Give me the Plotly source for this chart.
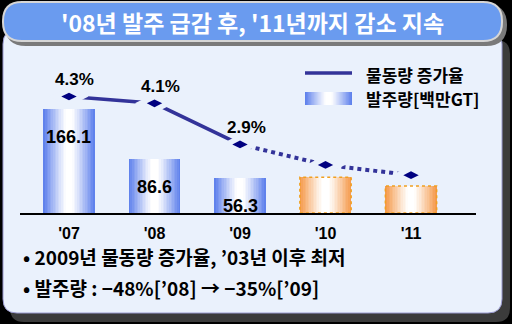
import plotly.graph_objects as go

# ---- data ----
years = ["'07", "'08", "'09", "'10", "'11"]
order_volume = [166.1, 86.6, 56.3, 57, 43]      # 발주량 (백만GT); '10, '11 projected
growth_rate = [4.3, 4.1, 2.9, 2.3, 2.0]         # 물동량 증가율 (%)
order_labels = ["166.1", "86.6", "56.3", "", ""]
rate_labels = ["4.3%", "4.1%", "2.9%", "", ""]
n_actual = 3                                    # first projected year index

title_text = "'08년 발주 급감 후, '11년까지 감소 지속"
legend_line_text = "물동량 증가율"
legend_bar_text = "발주량[백만GT]"
notes = ["• 2009년 물동량 증가율, ’03년 이후 최저",
         "• 발주량 : −48%[’08] → −35%[’09]"]

# ---- style ----
W, H = 512, 324
KR = "Noto Sans CJK KR, Noto Sans, sans-serif"
NUM = "Liberation Sans, Arial, sans-serif"
PANEL = "#eaf1fc"
BLUE_EDGE = (96, 130, 236)
ORANGE_EDGE = (245, 155, 78)
LINE_COLOR = "#333399"
MARKER_COLOR = "#000080"
BAR_W = 0.6
N_LAYERS = 16


def px(x):
    return x / W


def py(y):
    return 1 - y / H


def mix(edge, d):
    """Colour at normalised distance d from the bar centre (0 centre, 1 edge)."""
    t = max(0.0, min(1.0, (d - 0.15) / 0.85)) ** 1.1
    r, g, b = (round(255 + (c - 255) * t) for c in edge)
    return f"rgb({r},{g},{b})"


def rrect(x0, y0, x1, y1, r):
    pts = [("M", x0 + r, y0), ("L", x1 - r, y0), ("Q", x1, y0, x1, y0 + r),
           ("L", x1, y1 - r), ("Q", x1, y1, x1 - r, y1), ("L", x0 + r, y1),
           ("Q", x0, y1, x0, y1 - r), ("L", x0, y0 + r), ("Q", x0, y0, x0 + r, y0)]
    out = []
    for p in pts:
        cmd, coords = p[0], p[1:]
        xy = []
        for k in range(0, len(coords), 2):
            xy.append(f"{px(coords[k]):.5f},{py(coords[k + 1]):.5f}")
        out.append(cmd + " " + " ".join(xy))
    return " ".join(out) + " Z"


fig = go.Figure()

# gradient bars: stacked centred layers, white in the middle
for edge, lo, hi in [(BLUE_EDGE, 0, n_actual), (ORANGE_EDGE, n_actual, len(years))]:
    for i in range(N_LAYERS):
        f = 1 - i / N_LAYERS
        fig.add_trace(go.Bar(
            x=years,
            y=[v if lo <= k < hi else None for k, v in enumerate(order_volume)],
            width=BAR_W * f,
            marker=dict(color=mix(edge, f), line=dict(width=0)),
            yaxis="y", showlegend=False, hoverinfo="skip"))

# growth-rate line: solid for actual, dotted for projection
fig.add_trace(go.Scatter(x=years[:n_actual], y=growth_rate[:n_actual], yaxis="y2",
                         mode="lines", line=dict(color=LINE_COLOR, width=3.5),
                         showlegend=False, hoverinfo="skip"))
fig.add_trace(go.Scatter(x=years[n_actual - 1:], y=growth_rate[n_actual - 1:], yaxis="y2",
                         mode="lines", line=dict(color=LINE_COLOR, width=4, dash="dot"),
                         showlegend=False, hoverinfo="skip"))
# background-coloured halo so the line stops short of each marker
fig.add_trace(go.Scatter(x=years, y=growth_rate, yaxis="y2", mode="markers",
                         marker=dict(symbol="diamond-wide", size=28, color=PANEL,
                                     line=dict(width=0)),
                         showlegend=False, hoverinfo="skip"))
fig.add_trace(go.Scatter(x=years, y=growth_rate, yaxis="y2", mode="markers",
                         marker=dict(symbol="diamond-wide", size=11, color=MARKER_COLOR,
                                     line=dict(width=0)),
                         showlegend=False, hoverinfo="skip"))

shapes = []
# outer panel with shadow
shapes.append(dict(type="path", xref="paper", yref="paper", layer="below",
                   path=rrect(10, 40, 510, 322, 14), fillcolor="#3b3b3b", line=dict(width=0)))
shapes.append(dict(type="path", xref="paper", yref="paper", layer="below",
                   path=rrect(3, 30, 502, 313, 14), fillcolor=PANEL,
                   line=dict(color="#9a9ad0", width=1)))
# title banner with shadow and light rim
shapes.append(dict(type="path", xref="paper", yref="paper", layer="below",
                   path=rrect(5, 4, 507, 46, 21), fillcolor="#7a7a7a", line=dict(width=0)))
shapes.append(dict(type="path", xref="paper", yref="paper", layer="below",
                   path=rrect(2, 1, 503, 42, 20), fillcolor="#d6d6d6", line=dict(width=0)))
shapes.append(dict(type="path", xref="paper", yref="paper", layer="below",
                   path=rrect(4, 3, 501, 40, 18), fillcolor="#6a9bef", line=dict(width=0)))

# dotted outlines on projected bars
for k in range(n_actual, len(years)):
    shapes.append(dict(type="rect", xref="x", yref="y", layer="above",
                       x0=k - BAR_W / 2, x1=k + BAR_W / 2, y0=0, y1=order_volume[k],
                       line=dict(color="#f0a020", width=1.5, dash="dot")))

# legend swatches
shapes.append(dict(type="line", xref="paper", yref="paper", x0=px(305), x1=px(352),
                   y0=py(73), y1=py(73), line=dict(color=LINE_COLOR, width=3.5)))
sw0, sw1 = 305, 352
for i in range(N_LAYERS):
    f = 1 - i / N_LAYERS
    half = (sw1 - sw0) / 2 * f
    cx = (sw0 + sw1) / 2
    shapes.append(dict(type="rect", xref="paper", yref="paper",
                       x0=px(cx - half), x1=px(cx + half), y0=py(105), y1=py(92),
                       fillcolor=mix(BLUE_EDGE, f), line=dict(width=0)))

annotations = []
annotations.append(dict(text=title_text, xref="paper", yref="paper", x=px(252), y=py(22),
                        showarrow=False, xanchor="center", yanchor="middle",
                        font=dict(family=KR, size=23, color="white", weight="bold")))
annotations.append(dict(text=legend_line_text, xref="paper", yref="paper", x=px(364), y=py(74),
                        showarrow=False, xanchor="left", yanchor="middle",
                        font=dict(family=KR, size=17, color="black", weight="bold")))
annotations.append(dict(text=legend_bar_text, xref="paper", yref="paper", x=px(364), y=py(98),
                        showarrow=False, xanchor="left", yanchor="middle",
                        font=dict(family=KR, size=17, color="black", weight="bold")))
for k, t in enumerate(notes):
    annotations.append(dict(text=t, xref="paper", yref="paper", x=px(21), y=py(256 + 31 * k),
                            showarrow=False, xanchor="left", yanchor="middle",
                            font=dict(family=KR, size=19, color="black", weight="bold")))
for k, t in enumerate(rate_labels):
    if t:
        annotations.append(dict(text=t, x=years[k], y=growth_rate[k], xref="x", yref="y2",
                                showarrow=False, yshift=17, xshift=6,
                                font=dict(family=NUM, size=17, color="black", weight="bold")))
for k, t in enumerate(order_labels):
    if t:
        annotations.append(dict(text=t, x=years[k], y=order_volume[k], xref="x", yref="y",
                                showarrow=False, yshift=-28,
                                font=dict(family=NUM, size=18, color="black", weight="bold")))

fig.update_layout(
    width=W, height=H, margin=dict(l=0, r=0, t=0, b=0),
    paper_bgcolor="black", plot_bgcolor="rgba(0,0,0,0)",
    barmode="overlay", bargap=0, showlegend=False,
    xaxis=dict(domain=[px(20), px(476)], range=[-0.573, 4.76], type="category",
               showline=True, linecolor="black", linewidth=2, showgrid=False,
               ticks="", ticklabelstandoff=5,
               tickfont=dict(family=NUM, size=16, color="black", weight="bold"),
               fixedrange=True),
    yaxis=dict(domain=[py(213), py(60)], range=[0, 243.8], visible=False, fixedrange=True),
    yaxis2=dict(domain=[py(213), py(60)], range=[0.894, 5.367], overlaying="y",
                visible=False, fixedrange=True),
    shapes=shapes, annotations=annotations,
)

fig.write_html("out.html")
